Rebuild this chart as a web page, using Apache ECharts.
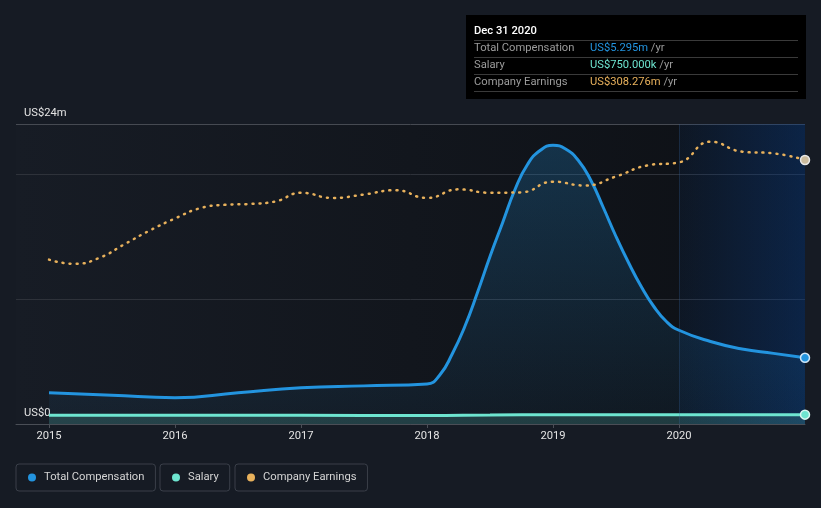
<!DOCTYPE html>
<html><head><meta charset="utf-8">
<script src="https://cdn.jsdelivr.net/npm/echarts@6/dist/echarts.min.js"></script>
<style>html,body{margin:0;padding:0;background:#161b24;}#c{width:821px;height:508px;}</style>
</head><body><div id="c"></div>
<script>
// ---- data (years as decimal years, values in US$ millions) ----
const compYears   = [2015, 2015.5, 2016, 2016.5, 2017, 2017.5, 2018, 2018.1, 2018.2, 2018.3, 2018.4, 2018.5, 2018.6, 2018.7, 2018.8, 2018.9, 2019, 2019.1, 2019.2, 2019.3, 2019.4, 2019.5, 2019.6, 2019.7, 2019.8, 2019.9, 2020, 2020.25, 2020.5, 2020.75, 2021];
const compValues  = [2.5, 2.3, 2.1, 2.5, 2.9, 3.05, 3.2, 3.9, 5.6, 7.8, 10.5, 13.4, 16.1, 18.8, 20.8, 21.9, 22.3, 22.0, 21.1, 19.5, 17.3, 15.0, 12.9, 11.0, 9.4, 8.2, 7.5, 6.6, 6.0, 5.65, 5.295];
const salaryYears = [2015, 2016, 2017, 2018, 2018.5, 2019, 2020, 2021];
const salaryValues= [0.7, 0.7, 0.7, 0.68, 0.72, 0.75, 0.75, 0.75];
const earnYears   = [2015, 2015.2, 2015.4, 2015.6, 2015.8, 2016, 2016.2, 2016.4, 2016.6, 2016.8, 2017, 2017.25, 2017.5, 2017.75, 2018, 2018.25, 2018.5, 2018.75, 2019, 2019.25, 2019.5, 2019.75, 2020, 2020.25, 2020.5, 2020.75, 2021];
const earnValues  = [192, 187, 194, 210, 226, 240, 252, 256, 257, 260, 270, 264, 268, 273, 264, 274, 270, 270.5, 283, 278.5, 289, 302, 305.5, 329.6, 318, 316, 308.276];
const seriesNames = ['Total Compensation', 'Salary', 'Company Earnings'];
const xTickYears  = [2015, 2016, 2017, 2018, 2019, 2020];
const yTickLabels = {0: 'US$0', 24: 'US$24m'};
const highlightRange = [2020, 2021];
const tooltipTitle  = 'Dec 31 2020';
const tooltipValues = ['US$5.295m', 'US$750.000k', 'US$308.276m'];

const colors = ['#2394df', '#6ee5d0', '#e8b15c'];
const FONT = 'Roboto, "Noto Sans", sans-serif';
const FS = 11.2;

function pairs(xs, ys, endColor, endBorder) {
  return xs.map((x, i) => i === xs.length - 1
    ? {value: [x, ys[i]], symbol: 'circle', symbolSize: 9, itemStyle: {color: endColor, borderColor: endBorder, borderWidth: 1.5}}
    : {value: [x, ys[i]], symbol: 'none'});
}

const chart = echarts.init(document.getElementById('c'), null, {renderer: 'canvas'});

const legendLefts = [16, 160, 235];
const tipRowsY = [48.5, 65.5, 82.5];

const graphicChildren = [
  {type: 'rect', shape: {x: 466, y: 15, width: 340, height: 84}, style: {fill: '#000000'}},
  {type: 'text', x: 474, y: 31.5, style: {text: tooltipTitle, fill: '#ffffff', font: '500 ' + FS + 'px ' + FONT, verticalAlign: 'middle'}}
];
[40.5, 57.5, 74.5, 91.5].forEach(y => graphicChildren.push({type: 'line', shape: {x1: 474, y1: y, x2: 798, y2: y}, style: {stroke: '#3a3a3a', lineWidth: 1}}));
seriesNames.forEach((n, i) => {
  graphicChildren.push({type: 'text', x: 474, y: tipRowsY[i], style: {text: n, fill: '#9b9b9b', font: FS + 'px ' + FONT, verticalAlign: 'middle'}});
  graphicChildren.push({type: 'text', x: 590, y: tipRowsY[i], style: {
    text: '{v|' + tooltipValues[i] + '} {u|/yr}', verticalAlign: 'middle', font: FS + 'px ' + FONT,
    rich: {v: {fill: colors[i], font: FS + 'px ' + FONT}, u: {fill: '#9b9b9b', font: FS + 'px ' + FONT}}
  }});
});

const option = {
  backgroundColor: '#161b24',
  animation: false,
  grid: {
    left: 16, right: 16, top: 124, bottom: 84, show: true, borderWidth: 0,
    backgroundColor: {type: 'linear', x: 0, y: 0, x2: 1, y2: 0, colorStops: [
      {offset: 0, color: '#171c25'}, {offset: 0.5, color: '#12161d'}, {offset: 1, color: '#0d1015'}]}
  },
  legend: seriesNames.map((n, i) => ({
    data: [n], left: legendLefts[i], top: 464, orient: 'horizontal', icon: 'circle',
    itemWidth: 8, itemHeight: 8, padding: [8, 11, 8, 12], borderColor: '#3a3f49', borderWidth: 1, borderRadius: 3,
    selectedMode: false,
    itemStyle: {color: colors[i]},
    textStyle: {color: '#d4d4d4', fontSize: FS, fontFamily: FONT, padding: [0, 0, 0, 3]}
  })),
  xAxis: {
    type: 'value', min: 2014.738, max: 2021,
    axisLine: {show: true, lineStyle: {color: '#4a4e56', width: 1}},
    axisTick: {show: true, length: 4, customValues: xTickYears, lineStyle: {color: '#4a4e56'}},
    axisLabel: {customValues: xTickYears, color: '#e4e4e4', fontSize: FS, fontFamily: FONT, margin: 7, formatter: v => String(v)},
    splitLine: {show: false}
  },
  yAxis: [
    {
      type: 'value', min: 0, max: 24, interval: 10,
      axisLine: {show: false}, axisTick: {show: false},
      axisLabel: {inside: true, margin: 8, color: '#e4e4e4', fontSize: FS, fontFamily: FONT,
        verticalAlign: 'bottom', padding: [0, 0, 5, 0], showMinLabel: true, showMaxLabel: true,
        formatter: v => yTickLabels[v] || ''},
      splitLine: {show: true, lineStyle: {color: ['#4a4e56', '#2e323a', '#2e323a', '#464a52'], width: 1}}
    },
    {type: 'value', min: 0, max: 350.3, show: false, splitLine: {show: false}}
  ],
  series: [
    {
      name: '__highlight', type: 'line', data: [], z: 1, silent: true,
      markArea: {silent: true, itemStyle: {color: {type: 'linear', x: 0, y: 0, x2: 1, y2: 0, colorStops: [
        {offset: 0, color: 'rgba(10,60,130,0.12)'}, {offset: 1, color: 'rgba(10,60,130,0.45)'}]}},
        data: [[{xAxis: highlightRange[0]}, {xAxis: highlightRange[1]}]]},
      markLine: {silent: true, symbol: 'none', label: {show: false}, lineStyle: {color: 'rgba(60,100,150,0.25)', type: 'solid', width: 1},
        data: [{xAxis: highlightRange[0]}]}
    },
    {
      name: seriesNames[0], type: 'line', z: 2, smooth: 0.5,
      data: pairs(compYears, compValues, colors[0], '#cfe6f7'),
      lineStyle: {color: colors[0], width: 3}, itemStyle: {color: colors[0]},
      areaStyle: {color: {type: 'linear', x: 0, y: 0, x2: 0, y2: 1, colorStops: [
        {offset: 0, color: 'rgba(35,148,223,0.34)'}, {offset: 1, color: 'rgba(35,148,223,0.07)'}]}}
    },
    {
      name: seriesNames[1], type: 'line', z: 3, smooth: 0.5,
      data: pairs(salaryYears, salaryValues, colors[1], '#d8f7f1'),
      lineStyle: {color: colors[1], width: 3}, itemStyle: {color: colors[1]},
      areaStyle: {color: 'rgba(110,229,208,0.25)'}
    },
    {
      name: seriesNames[2], type: 'line', z: 4, yAxisIndex: 1, smooth: 0.5,
      data: pairs(earnYears, earnValues, '#cbbb9c', '#e8e8e8'),
      lineStyle: {color: colors[2], width: 2.5, type: [1, 6], cap: 'round'}, itemStyle: {color: colors[2]}
    }
  ],
  graphic: [{type: 'group', children: graphicChildren}]
};
chart.setOption(option);
</script>
</body></html>
